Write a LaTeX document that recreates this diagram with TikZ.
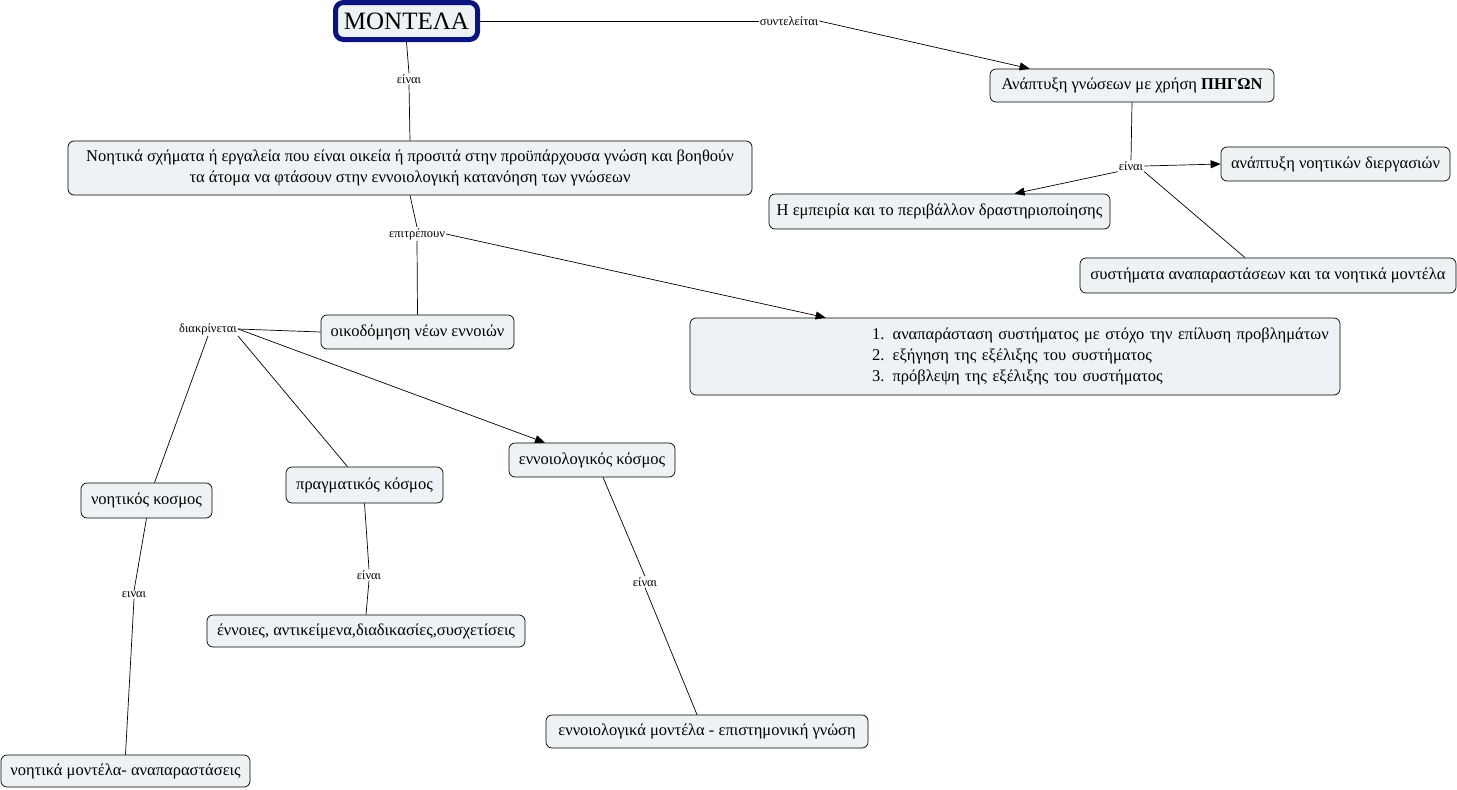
\documentclass[tikz,border=0pt]{standalone}
\usepackage{fontspec}
\setmainfont{Liberation Serif}
\usetikzlibrary{arrows.meta}
\definecolor{boxfill}{HTML}{EDF3F5}
\definecolor{navy}{HTML}{0B137F}
\begin{document}
\begin{tikzpicture}[x=1pt,y=-1pt,
  concept/.style={draw=black, line width=0.7pt, rounded corners=6pt, fill=boxfill,
    inner sep=2pt, font=\fontsize{16.5}{21}\selectfont, align=center},
  lab/.style={inner sep=1pt, font=\fontsize{12.5}{14}\selectfont},
  link/.style={draw=black, line width=0.7pt},
  arr/.style={link, -{Triangle[length=10pt,width=8pt]}}
]
\useasboundingbox (0,0) rectangle (1457,790);

% nodes
\node[draw=navy, line width=5pt, rounded corners=8pt, fill=boxfill, minimum width=142pt, minimum height=37pt,
  font=\fontsize{25}{28}\selectfont] (mont) at (406.5,21) {ΜΟΝΤΕΛΑ};
\node[concept, minimum width=284pt, minimum height=33pt] (anap) at (1132,85.5) {Ανάπτυξη γνώσεων με χρήση \textbf{ΠΗΓΩΝ}};
\node[concept, minimum width=229pt, minimum height=34pt] (dierg) at (1335.5,164) {ανάπτυξη νοητικών διεργασιών};
\node[concept, minimum width=341pt, minimum height=35pt] (emp) at (939.5,211.5) {Η εμπειρία και το περιβάλλον δραστηριοποίησης};
\node[concept, minimum width=376pt, minimum height=35pt] (syst) at (1268,275.5) {συστήματα αναπαραστάσεων και τα νοητικά μοντέλα};
\node[concept, minimum width=684pt, minimum height=54pt] (noit) at (410,168) {Νοητικά σχήματα ή εργαλεία που είναι οικεία ή προσιτά στην προϋπάρχουσα γνώση και βοηθούν\\τα άτομα να φτάσουν στην εννοιολογική κατανόηση των γνώσεων};
\node[concept, minimum width=193pt, minimum height=34pt] (oik) at (417.5,332) {οικοδόμηση νέων εννοιών};
\node[concept, minimum width=650pt, minimum height=77pt, text width=630pt, align=left] (big) at (1015,356.5)
  {\hspace*{172pt}1. αναπαράσταση συστήματος με στόχο την επίλυση προβλημάτων\\
   \hspace*{172pt}2. εξήγηση της εξέλιξης του συστήματος\\
   \hspace*{172pt}3. πρόβλεψη της εξέλιξης του συστήματος};
\node[concept, minimum width=131pt, minimum height=35pt] (noitk) at (146.5,500.5) {νοητικός κοσμος};
\node[concept, minimum width=157pt, minimum height=36pt] (prag) at (364.5,485) {πραγματικός κόσμος};
\node[concept, minimum width=166pt, minimum height=34pt] (ennk) at (592,460) {εννοιολογικός κόσμος};
\node[concept, minimum width=249pt, minimum height=32pt] (nm) at (125.5,771) {νοητικά μοντέλα- αναπαραστάσεις};
\node[concept, minimum width=318pt, minimum height=32pt] (enn) at (366,631) {έννοιες, αντικείμενα,διαδικασίες,συσχετίσεις};
\node[concept, minimum width=322pt, minimum height=33pt] (ennm) at (707,731.5) {εννοιολογικά μοντέλα - επιστημονική γνώση};

% linking phrases
\node[lab] (l1) at (789,21) {συντελείται};
\node[lab] (l2) at (409,79) {είναι};
\node[lab] (l3) at (1131,166) {είναι};
\node[lab] (l4) at (417,234) {επιτρέπουν};
\node[lab] (l5) at (208,329) {διακρίνεται};
\node[lab] (l6) at (134,595) {ειναι};
\node[lab] (l7) at (369,575) {είναι};
\node[lab] (l8) at (645,582) {είναι};

% connectors
\draw[link] (mont.east) -- (l1.west);
\draw[arr] (l1.east) -- ([xshift=40pt]anap.north west);
\draw[link] (mont.south) -- (l2.north);
\draw[link] (l2.south) -- (noit.north);
\draw[link] (anap.south) -- (l3.north);
\draw[arr] (l3.east) -- (dierg.west);
\draw[arr] (l3.south west) -- ([xshift=75pt]emp.north);
\draw[link] (l3.south east) -- ([xshift=-23pt]syst.north);
\draw[link] (noit.south) -- (l4.north);
\draw[link] (l4.south) -- (oik.north);
\draw[arr] (l4.east) -- ([xshift=136pt]big.north west);
\draw[link] (oik.west) -- (l5.east);
\draw[link] (l5.south) -- ([xshift=8pt]noitk.north);
\draw[link] (l5.south east) -- ([xshift=-17pt]prag.north);
\draw[arr] (l5.east) -- ([xshift=-47pt]ennk.north);
\draw[link] (noitk.south) -- (l6.north);
\draw[link] (l6.south) -- (nm.north);
\draw[link] (prag.south) -- (l7.north);
\draw[link] (l7.south) -- (enn.north);
\draw[link] ([xshift=11pt]ennk.south) -- (l8.north);
\draw[link] (l8.south) -- ([xshift=-10pt]ennm.north);
\end{tikzpicture}
\end{document}
